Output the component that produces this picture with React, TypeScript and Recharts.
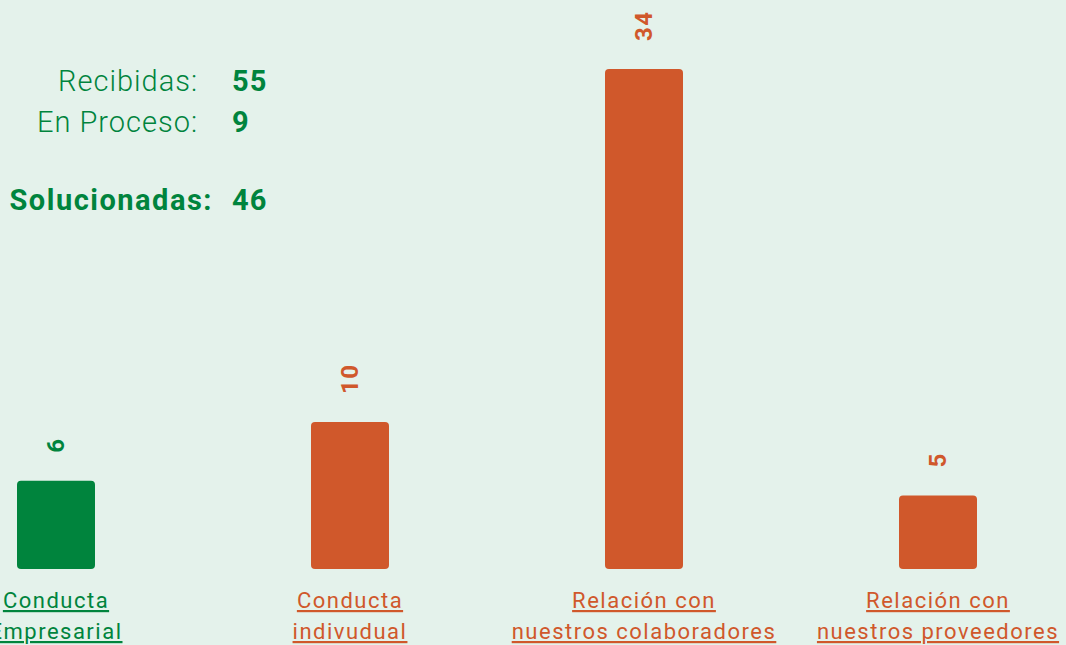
import { BarChart, Bar, XAxis, YAxis, Cell, LabelList } from "recharts"

const categories = [
  ["Conducta", "Empresarial"],
  ["Conducta", "indivudual"],
  ["Relación con", "nuestros colaboradores"],
  ["Relación con", "nuestros proveedores"],
]
const values = [6, 10, 34, 5]

const statLabels = ["Recibidas:", "En Proceso:", "Solucionadas:"]
const statValues = [55, 9, 46]

const GREEN = "#00843D"
const ORANGE = "#D0582B"
const BG = "#E4F2EB"
const FONT = "Roboto, 'Noto Sans', sans-serif"

const colorFor = (i: number) => (i === 0 ? GREEN : ORANGE)

const data = categories.map((c, i) => ({ name: c.join(" "), lines: c, value: values[i] }))

function CategoryTick(props: any) {
  const { x, y, index } = props
  const lines = categories[index]
  return (
    <text
      x={x}
      y={y}
      textAnchor="middle"
      fill={colorFor(index)}
      style={{ fontFamily: FONT, fontSize: 22, letterSpacing: 1.5, textDecoration: "underline" }}
    >
      <tspan x={x} dy={31}>{lines[0]}</tspan>
      <tspan x={x} dy={31}>{lines[1]}</tspan>
    </text>
  )
}

function ValueLabel(props: any) {
  const { x, y, width, value, index } = props
  const cx = x + width / 2
  const ty = y - 28
  return (
    <text
      x={cx}
      y={ty}
      transform={`rotate(-90, ${cx}, ${ty})`}
      textAnchor="start"
      dominantBaseline="central"
      fill={colorFor(index)}
      style={{ fontFamily: FONT, fontSize: 24, fontWeight: 700, letterSpacing: 1.5 }}
    >
      {value}
    </text>
  )
}

const statRows = [81, 122, 200]
const statRight = [198, 198, 213]

export default function App() {
  return (
    <div
      style={{
        position: "fixed",
        left: 0,
        top: 0,
        width: 1066,
        height: 645,
        overflow: "hidden",
        background: BG,
        fontFamily: FONT,
      }}
    >
      {statLabels.map((label, i) => {
        const bold = i === 2
        return (
          <div
            key={label}
            style={{
              position: "absolute",
              top: statRows[i] - 18,
              left: 0,
              width: 1066,
              height: 36,
              lineHeight: "36px",
              fontSize: 29,
              color: GREEN,
              whiteSpace: "nowrap",
            }}
          >
            <span
              style={{
                position: "absolute",
                right: 1066 - statRight[i],
                fontWeight: bold ? 700 : 300,
                letterSpacing: bold ? 1.5 : 1,
              }}
            >
              {label}
            </span>
            <span style={{ position: "absolute", left: 232, fontWeight: 700, letterSpacing: 1 }}>
              {statValues[i]}
            </span>
          </div>
        )
      })}

      <div style={{ position: "absolute", left: -91, top: 0 }}>
        <BarChart
          width={1176}
          height={645}
          data={data}
          margin={{ top: 69, right: 0, bottom: 0, left: 0 }}
          barSize={78}
        >
          <XAxis
            dataKey="name"
            height={76}
            axisLine={false}
            tickLine={false}
            interval={0}
            tick={<CategoryTick />}
          />
          <YAxis hide domain={[0, 34]} />
          <Bar dataKey="value" radius={4} isAnimationActive={false}>
            {data.map((d, i) => (
              <Cell key={d.name} fill={colorFor(i)} />
            ))}
            <LabelList dataKey="value" content={<ValueLabel />} />
          </Bar>
        </BarChart>
      </div>
    </div>
  )
}
